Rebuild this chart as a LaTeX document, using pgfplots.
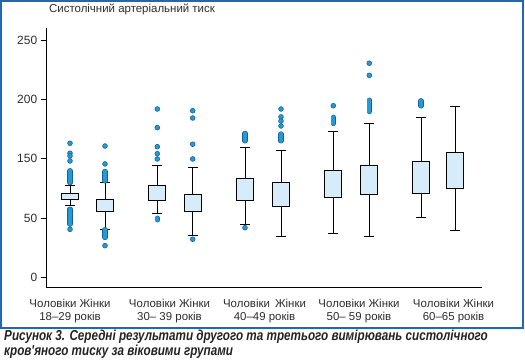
\documentclass[border=0pt]{standalone}
\usepackage{fontspec}
\setmainfont{Liberation Sans}
\newfontfamily\capfont[FakeStretch=0.81]{Liberation Sans}
\usepackage{pgfplots}
\pgfplotsset{compat=1.18}
\usepgfplotslibrary{statistics}
\definecolor{framec}{RGB}{30,105,175}
\definecolor{dotfill}{RGB}{35,155,215}
\definecolor{dotedge}{RGB}{25,95,150}
\definecolor{boxfill}{RGB}{214,236,250}
\definecolor{txt}{RGB}{45,45,45}
\pgfplotsset{
  bx/.style={draw=black, fill=boxfill, line width=0.8bp,
    boxplot/draw direction=y,
    boxplot/box extend=17, boxplot/whisker extend=10,
    boxplot/draw/median/.code={}},
  dots/.style={only marks, mark=*, mark size=2.4bp,
    mark options={fill=dotfill, draw=dotedge, line width=0.6bp}},
}
\begin{document}
\begin{tikzpicture}[x=1bp,y=1bp]
\begin{axis}[
  at={(0,0)}, anchor=south west,
  scale only axis, width=435.3bp, height=259.5bp,
  xmin=46.7, xmax=482, ymin=41.3, ymax=260.1,
  axis x line*=bottom, axis y line*=left,
  axis line style={black, line width=0.7bp},
  ytick={50,100,150,200,250}, yticklabels={0,50,150,200,250},
  tick align=outside, major tick length=6bp,
  ytick style={black, line width=0.7bp},
  xtick={70,169.5,264.5,359,453.5},
  xticklabels={{Чоловіки Жінки\\18–29 років},{Чоловіки Жінки\\30– 39 років},{Чоловіки\, Жінки\\40–49 років},{Чоловіки Жінки\\50– 59 років},{Чоловіки Жінки\\60–65 років}},
  xtick style={draw=none},
  xticklabel style={align=center, font=\fontsize{11.5}{13}\selectfont, text=txt, yshift=-2bp},
  yticklabel style={font=\fontsize{12}{14}\selectfont, text=txt},
  unbounded coords=jump,
  clip=false,
]
% boxes
\addplot[bx, boxplot prepared={draw position=70, lower whisker=110.6, lower quartile=115.7, median=115.7, upper quartile=120.7, upper whisker=127.5}] coordinates {};
\addplot[bx, boxplot prepared={draw position=105, lower whisker=90.6, lower quartile=105.6, median=105.6, upper quartile=115.7, upper whisker=129.7}] coordinates {};
\addplot[bx, boxplot prepared={draw position=157.3, lower whisker=104.1, lower quartile=114.8, median=114.8, upper quartile=127.7, upper whisker=144.3}] coordinates {};
\addplot[bx, boxplot prepared={draw position=192.7, lower whisker=85, lower quartile=105.6, median=105.6, upper quartile=120.2, upper whisker=142.7}] coordinates {};
\addplot[bx, boxplot prepared={draw position=245, lower whisker=94.6, lower quartile=114.8, median=114.8, upper quartile=133.4, upper whisker=159.5}] coordinates {};
\addplot[bx, boxplot prepared={draw position=281, lower whisker=84.5, lower quartile=109.8, median=109.8, upper quartile=130, upper whisker=156.7}] coordinates {};
\addplot[bx, boxplot prepared={draw position=333.3, lower whisker=87, lower quartile=117.4, median=117.4, upper quartile=140.1, upper whisker=173}] coordinates {};
\addplot[bx, boxplot prepared={draw position=369.3, lower whisker=84.5, lower quartile=119.9, median=119.9, upper quartile=144.4, upper whisker=179.8}] coordinates {};
\addplot[bx, boxplot prepared={draw position=421, lower whisker=100.5, lower quartile=120.7, median=120.7, upper quartile=148, upper whisker=184.8}] coordinates {};
\addplot[bx, boxplot prepared={draw position=455, lower whisker=89.8, lower quartile=124.6, median=124.6, upper quartile=155.6, upper whisker=194.4}] coordinates {};
% dense outlier runs
\addplot[dotedge, line width=5.4bp, line cap=round] coordinates {
(70,129.8)(70,139.7)(70,nan)(70,94.7)(70,107.3)(70,nan)
(105,131.3)(105,139.1)(105,nan)(105,83.5)(105,90)(105,nan)
(157.3,98.4)(157.3,99.7)(157.3,nan)
(245,165.0)(245,171.2)(245,nan)
(281,165.0)(281,170.7)(281,nan)
(333.3,179.6)(333.3,184.7)(333.3,nan)
(369.3,189.7)(369.3,199.2)(369.3,nan)
(421,194.5)(421,198.7)};
\addplot[dotfill, line width=4.2bp, line cap=round] coordinates {
(70,129.8)(70,139.7)(70,nan)(70,94.7)(70,107.3)(70,nan)
(105,131.3)(105,139.1)(105,nan)(105,83.5)(105,90)(105,nan)
(157.3,98.4)(157.3,99.7)(157.3,nan)
(245,165.0)(245,171.2)(245,nan)
(281,165.0)(281,170.7)(281,nan)
(333.3,179.6)(333.3,184.7)(333.3,nan)
(369.3,189.7)(369.3,199.2)(369.3,nan)
(421,194.5)(421,198.7)};
% single outliers
\addplot[dots] coordinates {
(70,162.9)(70,154.5)(70,152.2)(70,148.0)(70,90.4)
(105,160.6)(105,145.5)(105,76.6)
(157.3,191.8)(157.3,176.1)(157.3,160.0)(157.3,154.1)(157.3,149.7)
(192.7,190.4)(192.7,184.2)(192.7,162.1)(192.7,149.7)(192.7,82)
(245,91.7)
(281,191.8)(281,185.1)(281,181.7)(281,177.5)
(333.3,194.6)
(369.3,230.4)(369.3,220.2)};
\end{axis}
\node[font=\fontsize{11.5}{13}\selectfont, text=txt] at (85.3,278.5) {Систолічний артеріальний тиск};
\draw[framec, line width=2bp] (-45.7,286.5) rectangle (476.3,-40.5);
\node[anchor=base west, inner sep=0pt, font=\capfont\fontsize{14.5}{16}\selectfont\bfseries\itshape, text={rgb,255:red,35;green,35;blue,35}] at (-42.7,-53) {Рисунок 3. Середні результати другого та третього вимірювань систолічного};
\node[anchor=base west, inner sep=0pt, font=\capfont\fontsize{14.5}{16}\selectfont\bfseries\itshape, text={rgb,255:red,35;green,35;blue,35}] at (-42.7,-67.5) {кров'яного тиску за віковими групами};
\pgfresetboundingbox
\path[use as bounding box] (-46.7,-73.5) rectangle (478.3,287.5);
\end{tikzpicture}
\end{document}
